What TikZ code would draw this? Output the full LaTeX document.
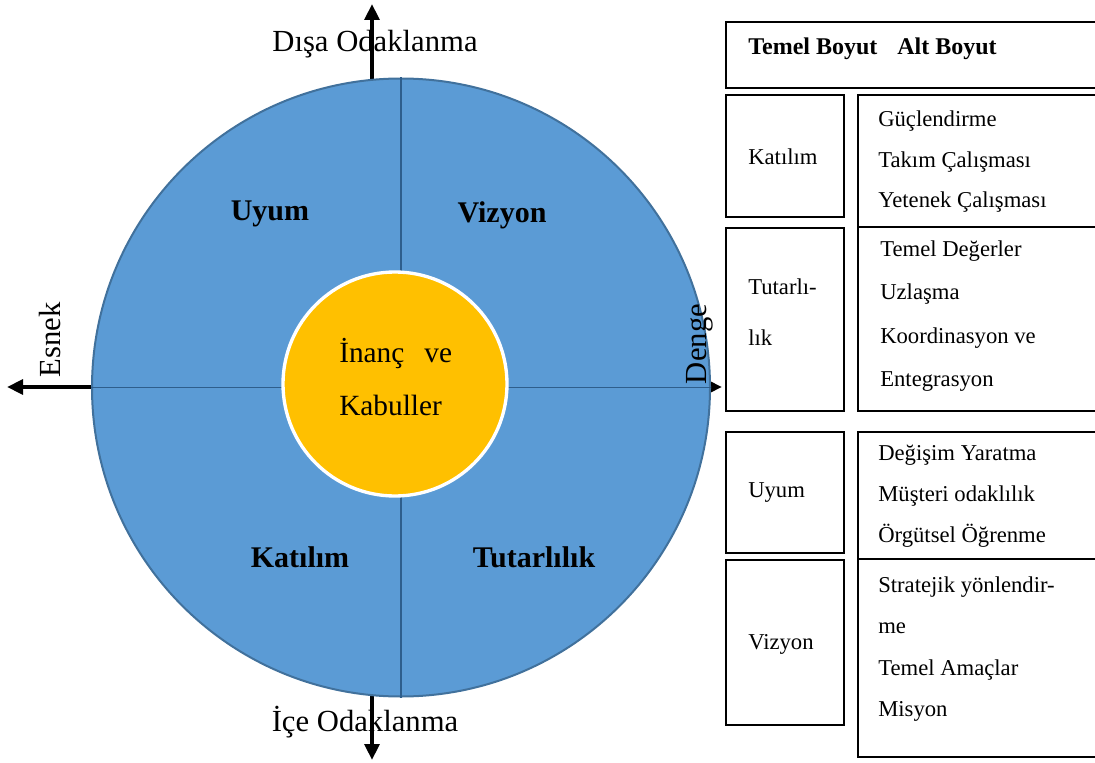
\documentclass[tikz,border=0pt]{standalone}
\usepackage{fontspec}
\setmainfont{Liberation Serif}
\usetikzlibrary{arrows.meta}
\definecolor{ringblue}{HTML}{5B9BD5}
\definecolor{ringedge}{HTML}{41719C}
\definecolor{divline}{HTML}{2E5E8C}
\definecolor{coreyellow}{HTML}{FFC000}
\begin{document}
\begin{tikzpicture}[x=0.75pt,y=-0.75pt,
  axisarrow/.style={line width=3pt,
    {Triangle[length=12pt,width=11pt]}-{Triangle[length=12pt,width=11pt]}},
  axislabel/.style={font=\fontsize{23}{27}\selectfont, inner sep=0pt},
  quadlabel/.style={font=\bfseries\fontsize{22.5}{27}\selectfont, inner sep=0pt},
  tbox/.style={draw, line width=2.2pt},
  tcell/.style={align=left, inner sep=0pt, anchor=west},
]
\useasboundingbox (0,0) rectangle (1095,763);

% axis labels under the arrows
\node[axislabel] (outward) at (375,44) {Dışa Odaklanma};
\node[axislabel] (inward) at (365,722) {İçe Odaklanma};
\node[axislabel, rotate=90] (flexible) at (50,340) {Esnek};

% axis arrows
\coordinate (topend) at (372,4);
\coordinate (bottomend) at (372,760);
\coordinate (leftend) at (7,387);
\coordinate (rightend) at (722,387);
\draw[axisarrow] (bottomend) -- (topend);
\draw[axisarrow] (leftend) -- (rightend);

% outer ring with its four quadrants
\node[circle, fill=ringblue, draw=ringedge, line width=1.5pt,
      minimum size=463.5pt, inner sep=0pt] (outer) at (401,387.5) {};
\draw[divline, line width=1.2pt] (outer.north) -- (outer.south);
\draw[divline, line width=1.2pt] (outer.west) -- (outer.east);

% label on the right rim, over the ring
\node[axislabel, rotate=90] (balance) at (700,344) {Denge};

\node[quadlabel] (qadapt) at (270,214) {Uyum};
\node[quadlabel] (qvision) at (502,215) {Vizyon};
\node[quadlabel] (qinvolve) at (300,557) {Katılım};
\node[quadlabel] (qconsist) at (534,557) {Tutarlılık};

% core
\node[circle, fill=coreyellow, draw=white, line width=2.5pt,
      minimum size=168pt, inner sep=0pt] (core) at (395,384) {};
\node[tcell, font=\fontsize{22}{40}\selectfont] (coretext) at (339,377)
  {İnanç\hspace{15pt}ve\\Kabuller};

% table
\draw[tbox] (726,22) rectangle (1100,88);
\node[tcell, font=\bfseries\fontsize{18}{22}\selectfont] (hdr) at (748,49)
  {Temel Boyut\hspace{15pt}Alt Boyut};

\draw[tbox] (726,95) rectangle (844,217);
\draw[tbox] (726,228) rectangle (844,411);
\draw[tbox] (726,432) rectangle (844,553);
\draw[tbox] (726,560) rectangle (844,725);

\draw[tbox] (858,95) rectangle (1100,411);
\draw[tbox] (858,227) -- (1100,227);
\draw[tbox] (858,432) rectangle (1100,757);
\draw[tbox] (858,559) -- (1100,559);

\node[tcell, font=\fontsize{17}{20}\selectfont] (kleft) at (748,157) {Katılım};
\node[tcell, font=\fontsize{17}{30.4}\selectfont] (kright) at (878,162)
  {Güçlendirme\\Takım Çalışması\\Yetenek Çalışması};

\node[tcell, font=\fontsize{17}{38}\selectfont] (tleft) at (748,312) {Tutarlı-\\lık};
\node[tcell, font=\fontsize{17}{32.5}\selectfont] (tright) at (880,316)
  {Temel Değerler\\Uzlaşma\\Koordinasyon ve\\Entegrasyon};

\node[tcell, font=\fontsize{17}{20}\selectfont] (uleft) at (748,493) {Uyum};
\node[tcell, font=\fontsize{17}{30.75}\selectfont] (uright) at (878,496)
  {Değişim Yaratma\\Müşteri odaklılık\\Örgütsel Öğrenme};

\node[tcell, font=\fontsize{17}{20}\selectfont] (vleft) at (748,644) {Vizyon};
\node[tcell, font=\fontsize{17}{31}\selectfont] (vright) at (878,649)
  {Stratejik yönlendir-\\me\\Temel Amaçlar\\Misyon};
\end{tikzpicture}
\end{document}
